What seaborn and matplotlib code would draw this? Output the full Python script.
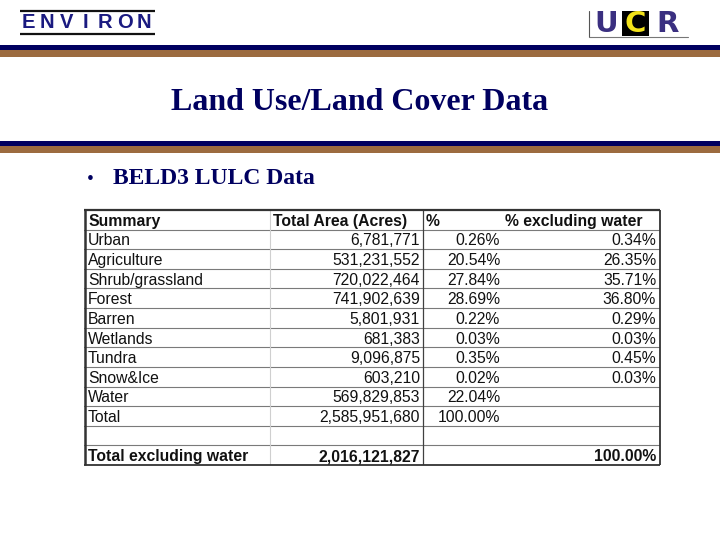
import matplotlib
matplotlib.use("Agg")
import matplotlib.pyplot as plt
import seaborn as sns
import pandas as pd

# Table values
categories = ["Urban", "Agriculture", "Shrub/grassland", "Forest", "Barren",
              "Wetlands", "Tundra", "Snow&Ice", "Water", "Total"]
area_acres = [6781771, 531231552, 720022464, 741902639, 5801931,
              681383, 9096875, 603210, 569829853, 2585951680]
pct_total = [0.26, 20.54, 27.84, 28.69, 0.22, 0.03, 0.35, 0.02, 22.04, 100.00]
pct_excl_water = [0.34, 26.35, 35.71, 36.80, 0.29, 0.03, 0.45, 0.03, None, None]
total_excl_label = "Total excluding water"
total_excl_area = 2016121827
total_excl_pct = 100.00
headers = ["Summary", "Total Area (Acres)", "%", "% excluding water"]

df = pd.DataFrame({"Summary": categories, "Area": area_acres,
                   "Pct": pct_total, "PctEx": pct_excl_water})

sns.set_theme(style="white")
plt.rcParams["font.family"] = ["Liberation Sans", "DejaVu Sans"]

NAVY = "#000060"
BROWN = "#9c6b3f"

fig = plt.figure(figsize=(7.2, 5.4), dpi=100)
fig.patch.set_facecolor("white")

# background axes in pixel units (y down)
bg = fig.add_axes([0, 0, 1, 1])
bg.set_xlim(0, 720)
bg.set_ylim(540, 0)
bg.axis("off")

# stripes
bg.axhspan(45, 50, color=NAVY, lw=0)
bg.axhspan(50, 57, color=BROWN, lw=0)
bg.axhspan(141, 146, color=NAVY, lw=0)
bg.axhspan(146, 153, color=BROWN, lw=0)

# ENVIRON logo
bg.plot([20, 155], [10.5, 10.5], color="#111111", lw=1.6, solid_capstyle="butt")
bg.plot([20, 155], [33.5, 33.5], color="#111111", lw=1.6, solid_capstyle="butt")
for i, ch in enumerate("ENVIRON"):
    bg.text(28 + i * 19.3, 22.5, ch, color="#1a1a80", fontsize=14.5,
            fontweight="bold", ha="center", va="center", family="Liberation Sans")

# UCR logo
bg.plot([589, 589], [11, 37], color="#555555", lw=0.8)
bg.plot([589, 688], [37, 37], color="#777777", lw=0.8)
bg.add_patch(plt.Rectangle((622, 11), 27, 25, color="black", lw=0))
bg.text(606, 24, "U", color="#3a2f80", fontsize=21, fontweight="bold",
        ha="center", va="center", family="DejaVu Sans")
bg.text(635.5, 24, "C", color="#f2e21a", fontsize=21, fontweight="bold",
        ha="center", va="center", family="DejaVu Sans")
bg.text(668, 24, "R", color="#3a2f80", fontsize=21, fontweight="bold",
        ha="center", va="center", family="DejaVu Sans")

# title and bullet
bg.text(360, 103, "Land Use/Land Cover Data", color=NAVY, fontsize=23,
        fontweight="bold", ha="center", va="center", family="Liberation Serif")
bg.text(90, 179, "\u2022", color=NAVY, fontsize=14, ha="center", va="center",
        family="Liberation Serif")
bg.text(113, 179, "BELD3 LULC Data", color=NAVY, fontsize=17,
        fontweight="bold", ha="left", va="center", family="Liberation Serif")

# table axes: x in pixels, y in rows
left, right, top, bottom = 84, 660, 210, 465
ax = fig.add_axes([left / 720, 1 - bottom / 540, (right - left) / 720, (bottom - top) / 540])
ax.set_xlim(left, right)
n_rows = len(df) + 3
ax.set_ylim(n_rows, 0)
ax.axis("off")

FS = 11.3
DY = 0.58
# header
hx = [88, 273, 426, 505]
for x, h in zip(hx, headers):
    ax.text(x, DY, h, fontsize=FS, fontweight="bold", ha="left", va="center", color="#111111")

for i, row in df.iterrows():
    y = i + 1 + DY
    ax.text(88, y, row["Summary"], fontsize=FS, ha="left", va="center", color="#111111")
    ax.text(420, y, f"{row['Area']:,}", fontsize=FS, ha="right", va="center", color="#111111")
    ax.text(500, y, f"{row['Pct']:.2f}%", fontsize=FS, ha="right", va="center", color="#111111")
    if pd.notna(row["PctEx"]):
        ax.text(656, y, f"{row['PctEx']:.2f}%", fontsize=FS, ha="right", va="center", color="#111111")

y = n_rows - 1 + DY
ax.text(88, y, total_excl_label, fontsize=FS, fontweight="bold", ha="left", va="center", color="#111111")
ax.text(420, y, f"{total_excl_area:,}", fontsize=FS, fontweight="bold", ha="right", va="center", color="#111111")
ax.text(656, y, f"{total_excl_pct:.2f}%", fontsize=FS, fontweight="bold", ha="right", va="center", color="#111111")

# grid lines
for k in range(1, n_rows):
    ax.axhline(k, color="#7a7a7a", lw=0.8)
ax.axvline(270, color="#cfcfcf", lw=0.8)
ax.axvline(423, color="#404040", lw=0.9)
# outer border
ax.plot([left + 0.5, left + 0.5], [0, n_rows], color="#333333", lw=1.8,
        clip_on=False, solid_capstyle="butt")
ax.plot([right, right], [0, n_rows], color="#333333", lw=1.3,
        clip_on=False, solid_capstyle="butt")
ax.plot([left, right], [0, 0], color="#333333", lw=1.6,
        clip_on=False, solid_capstyle="butt")
ax.plot([left, right], [n_rows, n_rows], color="#333333", lw=1.3,
        clip_on=False, solid_capstyle="butt")

fig.savefig("out.png", dpi=100, facecolor="white")
